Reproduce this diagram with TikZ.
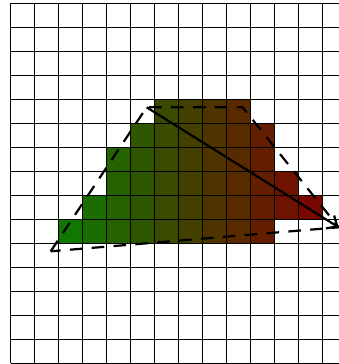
\documentclass[tikz,border=0pt]{standalone}
\usetikzlibrary{arrows.meta}
\definecolor{cgreen}{RGB}{16,120,0}
\definecolor{cred}{RGB}{120,8,0}
\begin{document}
\begin{tikzpicture}[x=1cm,y=1cm,
  gridline/.style={line width=1.25pt, black},
  hull/.style={line width=2.6pt, black, dash pattern=on 15pt off 11pt},
  vec/.style={line width=2.6pt, black, -{Straight Barb[length=10pt,width=18pt]}}]
\useasboundingbox (-0.444,-0.029) rectangle (13.681,15.139);
\foreach \i/\a/\b in {2/5/6,3/5/7,4/5/9,5/5/10,6/5/11,7/5/11,8/5/11,9/5/11,10/5/10,11/6/8,12/6/7}{
  \pgfmathtruncatemacro\t{(\i-2)*10}
  \fill[cred!\t!cgreen] (\i,\a) rectangle (\i+1,\b);
}
\draw[gridline] (0,0) grid (13.681,15);
\coordinate (A) at (1.667,4.667);
\coordinate (B) at (5.667,10.667);
\coordinate (C) at (9.667,10.667);
\coordinate (D) at (13.667,5.667);
\draw[hull] (A) -- (B) -- (C) -- (D) -- cycle;
\draw[vec] (B) -- (D);
\end{tikzpicture}
\end{document}
